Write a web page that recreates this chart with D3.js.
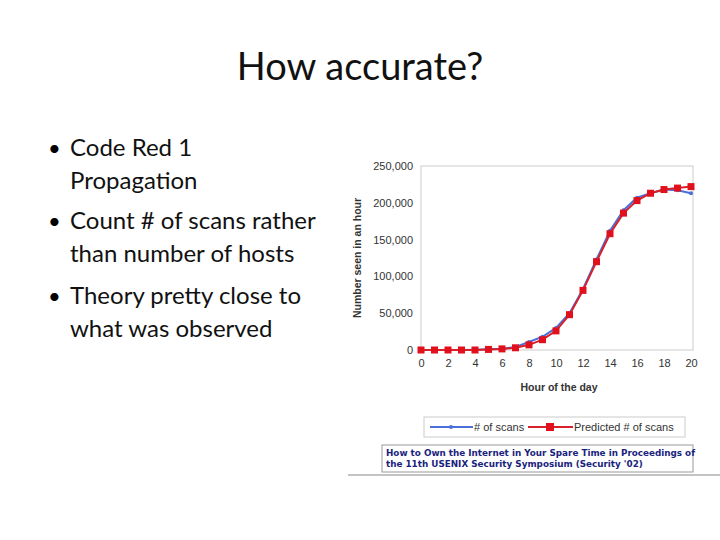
<!DOCTYPE html>
<html><head><meta charset="utf-8">
<script src="https://cdn.jsdelivr.net/npm/d3@7"></script>
<style>body{margin:0;background:#fff}</style>
</head><body>
<script>
// Code Red propagation slide
const hours = d3.range(0, 21);
const scans = [0, 0, 0, 0, 500, 1000, 1800, 4000, 11000, 18000, 30000, 50000, 83000, 123000, 162000, 190000, 207000, 213000, 218000, 217000, 213000];
const predicted = [0, 0, 0, 0, 0, 800, 1500, 3000, 7000, 14000, 26000, 48000, 81000, 120000, 158000, 186000, 203000, 213000, 218000, 220000, 222000];
const xTicks = [0, 2, 4, 6, 8, 10, 12, 14, 16, 18, 20];
const yTicks = [0, 50000, 100000, 150000, 200000, 250000];
const bullets = [["Code Red 1", "Propagation"], ["Count # of scans rather", "than number of hosts"], ["Theory pretty close to", "what was observed"]];

const svg = d3.select("body").append("svg").attr("width", 720).attr("height", 540);

svg.append("text").attr("x", 360).attr("y", 80).attr("text-anchor", "middle")
    .style("font-family", "Lato, 'Open Sans', sans-serif").style("font-size", "38px").attr("fill", "#111").text("How accurate?");

const by = [[156, 189], [229, 262], [304, 337]];
bullets.forEach((b, i) => {
    svg.append("text").attr("x", 48).attr("y", by[i][0]).style("font-size", "22px").style("font-family", "Lato, sans-serif").text("•");
    b.forEach((t, j) => svg.append("text").attr("x", 70).attr("y", by[i][j])
        .style("font-family", "Lato, 'Open Sans', sans-serif").style("font-size", "24px").attr("fill", "#111").text(t));
});

const x = d3.scaleLinear().domain([0, 20]).range([421, 691]);
const y = d3.scaleLinear().domain([0, 250000]).range([350, 166]);

svg.append("rect").attr("x", 421).attr("y", 166).attr("width", 272).attr("height", 184)
    .attr("fill", "none").attr("stroke", "#ccc");

const axF = "Liberation Sans, Arial, sans-serif";
const yAxis = svg.append("g").attr("transform", "translate(421,0)")
    .call(d3.axisLeft(y).tickValues(yTicks).tickSize(0).tickPadding(8).tickFormat(d3.format(",")));
const xAxis = svg.append("g").attr("transform", "translate(0,350)")
    .call(d3.axisBottom(x).tickValues(xTicks).tickSize(0).tickPadding(9));
[xAxis, yAxis].forEach(a => {
    a.select(".domain").remove();
    a.selectAll("text").style("font-family", axF).style("font-size", "11px").attr("fill", "#333");
});

svg.append("text").attr("x", 559).attr("y", 391).attr("text-anchor", "middle")
    .style("font-family", axF).style("font-size", "10.5px").style("font-weight", "bold").attr("fill", "#333").text("Hour of the day");
svg.append("text").attr("transform", "translate(361,258) rotate(-90)").attr("text-anchor", "middle")
    .style("font-family", axF).style("font-size", "10.5px").style("font-weight", "bold").attr("fill", "#333").text("Number seen in an hour");

const line = d3.line().x((d, i) => x(hours[i])).y(d => y(d));
svg.append("path").datum(scans).attr("d", line).attr("fill", "none").attr("stroke", "#4a6fd8").attr("stroke-width", 2);
svg.selectAll(".sc").data(scans).enter().append("circle").attr("cx", (d, i) => x(hours[i])).attr("cy", d => y(d)).attr("r", 2).attr("fill", "#4a6fd8");
svg.append("path").datum(predicted).attr("d", line).attr("fill", "none").attr("stroke", "#d8202a").attr("stroke-width", 2);
svg.selectAll(".pr").data(predicted).enter().append("rect").attr("x", (d, i) => x(hours[i]) - 3.5).attr("y", d => y(d) - 3.5)
    .attr("width", 7).attr("height", 7).attr("fill", "#e0101c");

// legend
svg.append("rect").attr("x", 424).attr("y", 417).attr("width", 261).attr("height", 20).attr("fill", "none").attr("stroke", "#ccc");
svg.append("line").attr("x1", 430).attr("x2", 473).attr("y1", 427).attr("y2", 427).attr("stroke", "#4a6fd8").attr("stroke-width", 2);
svg.append("circle").attr("cx", 451).attr("cy", 427).attr("r", 2).attr("fill", "#4a6fd8");
svg.append("text").attr("x", 474).attr("y", 431).style("font-family", axF).style("font-size", "11px").attr("fill", "#333").text("# of scans");
svg.append("line").attr("x1", 528).attr("x2", 573).attr("y1", 427).attr("y2", 427).attr("stroke", "#d8202a").attr("stroke-width", 2);
svg.append("rect").attr("x", 546).attr("y", 423).attr("width", 8).attr("height", 8).attr("fill", "#e0101c");
svg.append("text").attr("x", 574).attr("y", 431).style("font-family", axF).style("font-size", "11px").attr("fill", "#333").text("Predicted # of scans");

// citation
svg.append("rect").attr("x", 382).attr("y", 445).attr("width", 311).attr("height", 27).attr("fill", "#fff").attr("stroke", "#999");
["How to Own the Internet in Your Spare Time in Proceedings of", "the 11th USENIX Security Symposium (Security '02)"].forEach((t, i) =>
    svg.append("text").attr("x", 386).attr("y", 456 + i * 11).style("font-family", "DejaVu Sans, sans-serif").style("font-size", "8.8px")
        .style("font-weight", "bold").attr("fill", "#1a237e").text(t));
svg.append("line").attr("x1", 348).attr("x2", 720).attr("y1", 475).attr("y2", 475).attr("stroke", "#888");
</script>
</body></html>
